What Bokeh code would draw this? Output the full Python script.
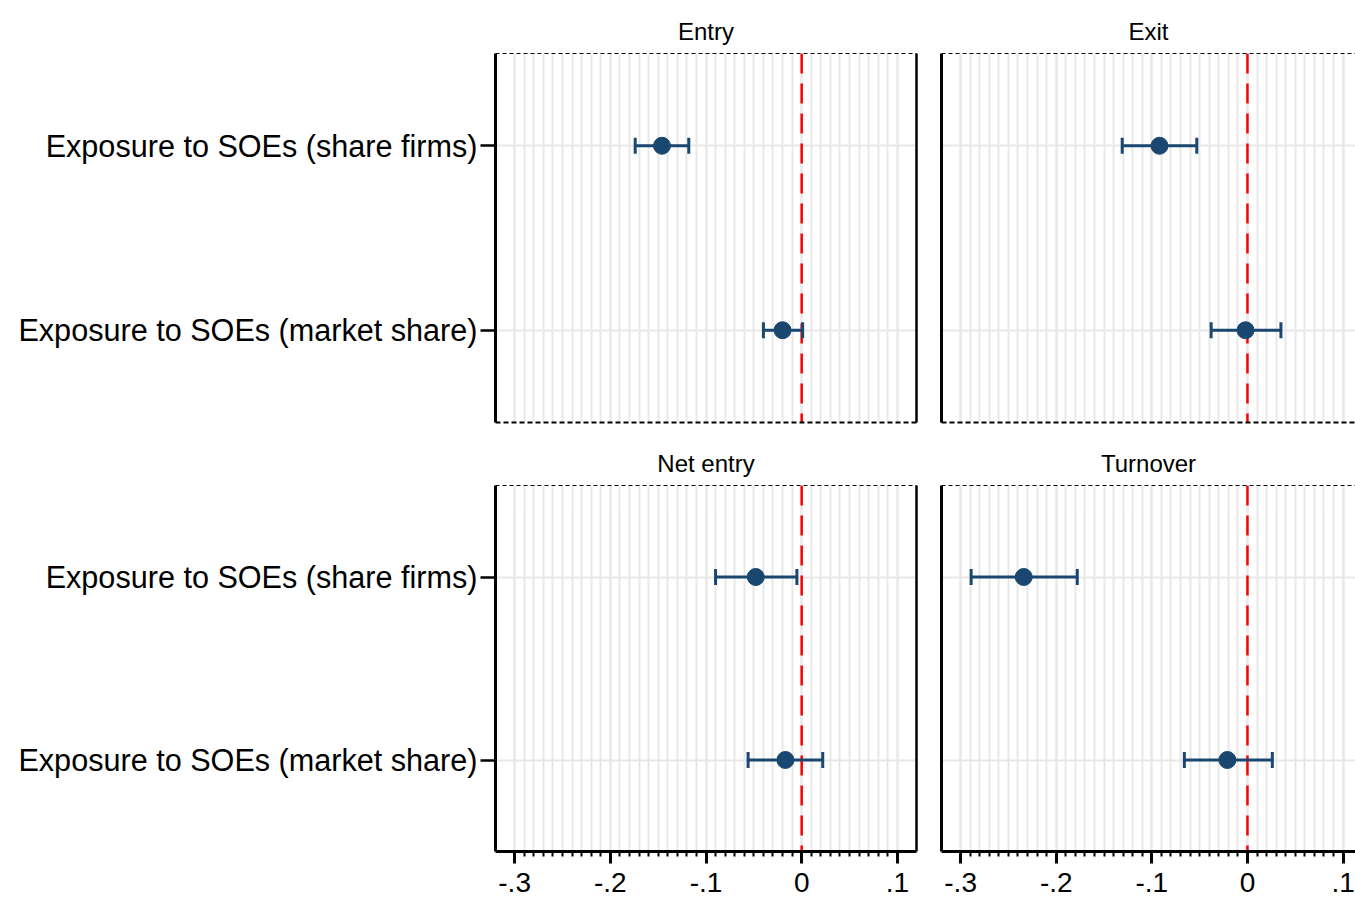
import math
from bokeh.plotting import figure
from bokeh.models import (Range1d, FixedTicker, LinearAxis, Span,
                          ColumnDataSource)
from bokeh.layouts import column, row
from bokeh.embed import file_html
from bokeh.resources import INLINE

# ---------------- data ----------------
rows = ["Exposure to SOEs (share firms)", "Exposure to SOEs (market share)"]
panel_titles = ["Entry", "Exit", "Net entry", "Turnover"]

entry_coef = [-0.146, -0.020]
entry_lo = [-0.174, -0.040]
entry_hi = [-0.118, 0.001]

exit_coef = [-0.092, -0.002]
exit_lo = [-0.131, -0.038]
exit_hi = [-0.053, 0.035]

net_coef = [-0.048, -0.017]
net_lo = [-0.090, -0.056]
net_hi = [-0.005, 0.022]

turn_coef = [-0.234, -0.021]
turn_lo = [-0.289, -0.066]
turn_hi = [-0.178, 0.026]

major_ticks = [-0.3, -0.2, -0.1, 0.0, 0.1]
tick_labels = ["-.3", "-.2", "-.1", "0", ".1"]
minor_ticks = [round(-0.30 + 0.01 * i, 2) for i in range(41)]

# row positions on the y scale (first row on top)
row_pos = [len(rows) - i for i in range(len(rows))]

NAVY = "#1a476f"
GRID = "#e8e8e8"
FONT = "Liberation Sans"


def border_axis(width, dash="solid"):
    return LinearAxis(ticker=FixedTicker(ticks=[]),
                      axis_line_color="black", axis_line_width=width,
                      axis_line_dash=dash, major_tick_out=0, major_tick_in=0,
                      minor_tick_out=0, minor_tick_in=0, major_label_standoff=0)


def make_panel(title, coef, lo, hi, left, bottom):
    width = 928 if left else 427
    height = 460 if bottom else 439
    xr = Range1d(-0.32, 0.12) if left else Range1d(-0.32, 0.113)
    p = figure(width=width, height=height, x_range=xr,
               y_range=Range1d(0.5, len(rows) + 0.5),
               output_backend="svg", toolbar_location=None, title=title,
               min_border_left=495 if left else 13,
               min_border_right=12 if left else 0,
               min_border_top=46 if bottom else 53,
               min_border_bottom=48 if bottom else 17)
    p.outline_line_color = None
    p.background_fill_color = "white"
    p.border_fill_color = "white"

    p.title.align = "center"
    p.title.text_font = FONT
    p.title.text_font_size = "24px"
    p.title.text_font_style = "normal"
    p.title.text_color = "black"
    p.title.standoff = 17

    # grids
    p.xgrid.ticker = FixedTicker(ticks=major_ticks, minor_ticks=minor_ticks)
    p.xgrid.grid_line_color = GRID
    p.xgrid.grid_line_width = 2
    p.xgrid.minor_grid_line_color = GRID
    p.xgrid.minor_grid_line_width = 2
    p.ygrid.ticker = FixedTicker(ticks=row_pos)
    p.ygrid.grid_line_color = GRID
    p.ygrid.grid_line_width = 2

    # bottom axis
    ax = p.xaxis[0]
    ax.axis_line_color = "black"
    if bottom:
        ax.ticker = FixedTicker(ticks=major_ticks, minor_ticks=minor_ticks)
        ax.major_label_overrides = dict(zip(major_ticks, tick_labels))
        ax.major_tick_out = 12
        ax.major_tick_in = 0
        ax.major_tick_line_width = 3
        ax.minor_tick_out = 5
        ax.minor_tick_in = 0
        ax.minor_tick_line_width = 2
        ax.axis_line_width = 3
        ax.major_label_text_font = FONT
        ax.major_label_text_font_size = "28px"
        ax.major_label_text_color = "black"
        ax.major_label_standoff = 9
    else:
        ax.ticker = FixedTicker(ticks=[])
        ax.axis_line_width = 2
        ax.axis_line_dash = "5 3"
        ax.major_tick_out = 0
        ax.minor_tick_out = 0
        ax.major_label_standoff = 0

    # top dashed border
    top = LinearAxis(ticker=FixedTicker(ticks=[]), axis_line_color="black",
                     axis_line_width=1, axis_line_dash="4 3",
                     major_tick_out=0, minor_tick_out=0, major_label_standoff=0)
    p.add_layout(top, "above")

    # left axis
    ay = p.yaxis[0]
    ay.axis_line_color = "black"
    ay.axis_line_width = 3
    ay.minor_tick_out = 0
    ay.minor_tick_in = 0
    if left:
        ay.ticker = FixedTicker(ticks=row_pos)
        ay.major_label_overrides = dict(zip(row_pos, rows))
        ay.major_tick_out = 15
        ay.major_tick_in = 0
        ay.major_tick_line_width = 2.5
        ay.major_label_text_font = FONT
        ay.major_label_text_font_size = "30.6px"
        ay.major_label_text_color = "black"
        ay.major_label_standoff = 3
        p.add_layout(border_axis(2.5), "right")
    else:
        ay.ticker = FixedTicker(ticks=[])
        ay.major_tick_out = 0
        ay.major_tick_in = 0
        ay.major_label_standoff = 0

    # zero line
    p.add_layout(Span(location=0, dimension="height", line_color="#ff0000",
                      line_width=2.5, line_dash="20 10", level="underlay"))

    src = ColumnDataSource(dict(y=row_pos, coef=coef, lo=lo, hi=hi))
    p.segment(x0="lo", y0="y", x1="hi", y1="y", source=src,
              line_color=NAVY, line_width=3)
    p.scatter(x="lo", y="y", source=src, marker="dash", angle=math.pi / 2,
              size=16, line_color=NAVY, line_width=3)
    p.scatter(x="hi", y="y", source=src, marker="dash", angle=math.pi / 2,
              size=16, line_color=NAVY, line_width=3)
    p.scatter(x="coef", y="y", source=src, marker="circle", size=17,
              fill_color=NAVY, line_color=NAVY)
    return p


p1 = make_panel(panel_titles[0], entry_coef, entry_lo, entry_hi, True, False)
p2 = make_panel(panel_titles[1], exit_coef, exit_lo, exit_hi, False, False)
p3 = make_panel(panel_titles[2], net_coef, net_lo, net_hi, True, True)
p4 = make_panel(panel_titles[3], turn_coef, turn_lo, turn_hi, False, True)

layout = column(row(p1, p2), row(p3, p4))
open("out.html", "w").write(file_html(layout, INLINE))
